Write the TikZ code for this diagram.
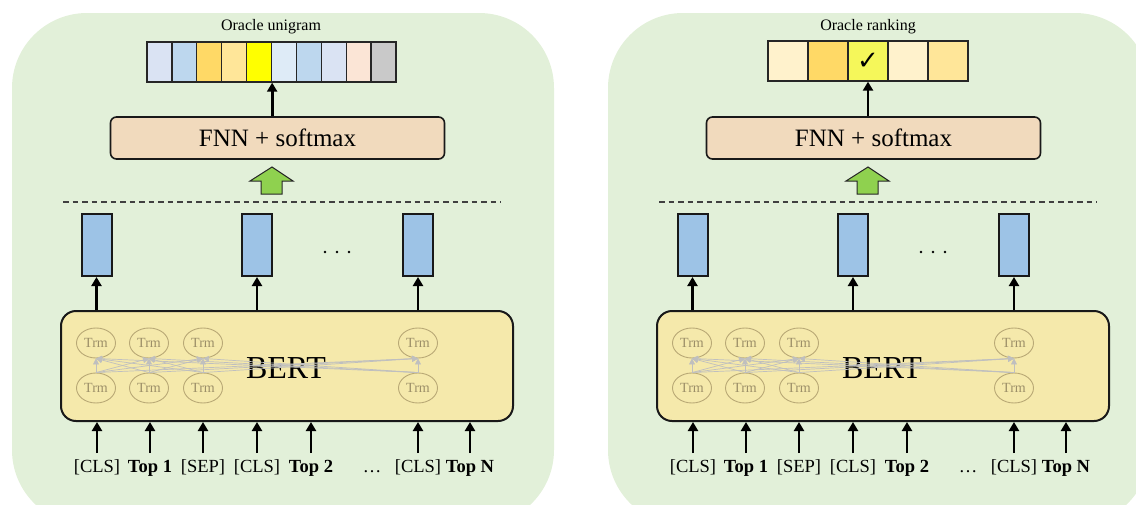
\documentclass[tikz,border=0pt]{standalone}
\usepackage{fontspec}
\setmainfont{Liberation Serif}
\newfontfamily\symfont{DejaVu Sans}
\usetikzlibrary{arrows.meta,shapes.geometric}

\definecolor{panelgreen}{HTML}{E2F0D9}
\definecolor{fnnfill}{HTML}{F1DABD}
\definecolor{bertfill}{HTML}{F5E9AB}
\definecolor{vecblue}{HTML}{9DC3E6}
\definecolor{upgreen}{HTML}{8FD14F}
\definecolor{trmline}{HTML}{B8A875}
\definecolor{trmtext}{HTML}{9C8F68}
\definecolor{attgray}{HTML}{BFBFBF}
\definecolor{ca}{HTML}{DAE3F3}
\definecolor{cb}{HTML}{BDD7EE}
\definecolor{cc}{HTML}{FFD966}
\definecolor{cd}{HTML}{FFE699}
\definecolor{ce}{HTML}{FFFF00}
\definecolor{cf}{HTML}{DEEBF7}
\definecolor{cg}{HTML}{FBE5D6}
\definecolor{ch}{HTML}{C9C9C9}
\definecolor{ci}{HTML}{FFF2CC}
\definecolor{cj}{HTML}{F5F75A}

\tikzset{
  panel/.style={fill=panelgreen, rounded corners=75pt},
  cell/.style={draw=black!85, line width=1.3pt, minimum height=40pt, inner sep=0pt, anchor=center},
  fnnbox/.style={draw=black!90, line width=1.6pt, fill=fnnfill, rounded corners=6pt,
    minimum width=334pt, minimum height=42pt, font=\fontsize{25}{27}\selectfont},
  vecbox/.style={draw=black!90, line width=2pt, fill=vecblue, minimum width=30pt, minimum height=62pt, inner sep=0pt},
  bertbox/.style={draw=black!90, line width=2pt, fill=bertfill, rounded corners=15pt,
    minimum width=452pt, minimum height=110pt},
  trm/.style={ellipse, draw=trmline, line width=0.9pt, minimum width=39pt, minimum height=30pt,
    inner sep=0pt, text=trmtext, font=\fontsize{14}{15}\selectfont},
  att/.style={draw=attgray, line width=0.7pt, -{Triangle[length=6pt,width=6pt]}},
  arr/.style={draw=black, line width=2.8pt, -{Triangle[length=9pt,width=10pt]}},
  tok/.style={font=\fontsize{18.5}{20}\selectfont, inner sep=1pt, anchor=base},
  btok/.style={tok, font=\fontsize{18.5}{20}\selectfont\bfseries},
  title/.style={font=\fontsize{16}{18}\selectfont, inner sep=0pt},
  sep/.style={draw=black!75, line width=1.2pt, dash pattern=on 5.5pt off 4pt},
}

% Common body of one panel: FNN head, vectors, BERT encoder and inputs.
% #1 = name prefix
\newcommand{\bertbody}[1]{%
  \fill[panel] (12,13) rectangle (554,525);
  \node[fnnbox] (#1fnn) at (277.5,138) {FNN + softmax};
  \fill[upgreen, draw=black!85, line width=1pt]
    (261,194) -- (261,181) -- (250,181) -- (272,167) -- (293,181) -- (282,181) -- (282,194) -- cycle;
  \coordinate (#1sepL) at (63,202);
  \coordinate (#1sepR) at (501,202);
  \draw[sep] (#1sepL) -- (#1sepR);
  \node[bertbox] (#1bert) at (287,366) {};
  \node[font=\fontsize{32}{34}\selectfont] (#1bertlabel) at (286,368) {BERT};
  \node[vecbox] (#1v1) at (96.5,245) {};
  \node[vecbox] (#1v2) at (257,245) {};
  \node[vecbox] (#1v3) at (418,245) {};
  \fill (325,252) circle (1.3) (337,252) circle (1.3) (349,252) circle (1.3);
  \foreach \x [count=\i] in {96,149,203,418} {
    \node[trm] (#1t\i) at (\x,343) {Trm};
    \node[trm] (#1b\i) at (\x,388) {Trm};
  }
  \foreach \i in {1,...,4} {
    \foreach \j in {1,...,4} {
      \draw[att] (#1b\i.north) -- (#1t\j.south);
    }
  }
  \foreach \k in {1,2,3} {
    \draw[arr] (#1v\k.south |- #1bert.north) -- (#1v\k.south);
  }
  \node[tok]  (#1w1) at (97,472)  {[CLS]};
  \node[btok] (#1w2) at (150,472) {Top 1};
  \node[tok]  (#1w3) at (203,472) {[SEP]};
  \node[tok]  (#1w4) at (257,472) {[CLS]};
  \node[btok] (#1w5) at (311,472) {Top 2};
  \node[tok]  (#1w6) at (372,472) {\ldots};
  \node[tok]  (#1w7) at (418,472) {[CLS]};
  \node[btok] (#1w8) at (470,472) {Top N};
  \foreach \k in {1,2,3,4,5,7,8} {
    \coordinate (#1in\k) at ([yshift=19pt]#1w\k.base);
    \draw[arr] (#1in\k) -- (#1in\k |- #1bert.south);
  }
}

\begin{document}
\begin{tikzpicture}[x=1pt, y=-1pt]
  \useasboundingbox (0,0) rectangle (1136,504);

  % Left panel: oracle unigram prediction
  \begin{scope}
    \bertbody{l}
    \node[title] (ltitle) at (271,27) {Oracle unigram};
    \foreach \c [count=\i] in {ca,cb,cc,cd,ce,cf,cb,ca,cg,ch} {
      \node[cell, fill=\c, minimum width=24.9pt] (lu\i) at ({147+24.9*(\i-0.5)},62) {};
    }
    \draw[arr] (lfnn.north -| lu5.south east) -- (lu5.south east);
  \end{scope}

  % Right panel: oracle ranking prediction
  \begin{scope}[xshift=596pt]
    \bertbody{r}
    \node[title] (rtitle) at (272,27) {Oracle ranking};
    \foreach \c [count=\i] in {ci,cc,cj,ci,cd} {
      \node[cell, fill=\c, minimum width=40pt] (ru\i) at ({172+40*(\i-0.5)},61) {};
    }
    \node[font=\symfont\fontsize{26}{28}\selectfont] (rcheck) at (ru3) {✓};
    \draw[arr] (rfnn.north -| ru3.south) -- (ru3.south);
  \end{scope}
\end{tikzpicture}
\end{document}
